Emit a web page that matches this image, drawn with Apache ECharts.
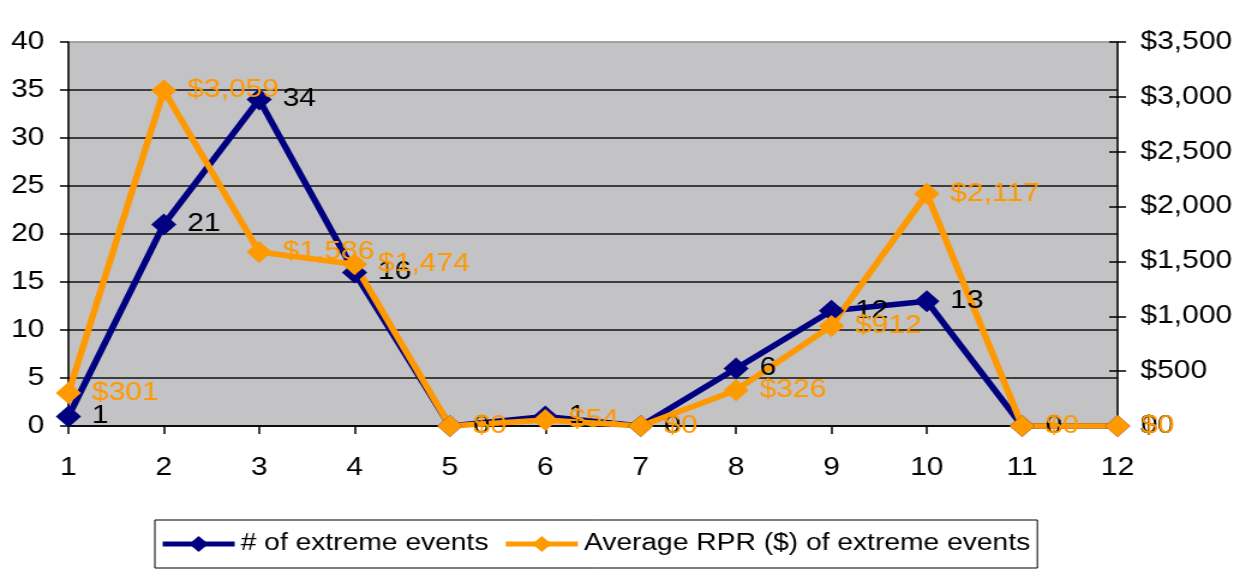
<!DOCTYPE html>
<html>
<head>
<meta charset="utf-8">
<script src="https://cdn.jsdelivr.net/npm/echarts@6/dist/echarts.min.js"></script>
<style>
  html, body { margin: 0; padding: 0; background: #fff; overflow: hidden; }
  #wrap { width: 1246px; height: 574px; overflow: hidden; }
  /* chart is laid out narrower and widened horizontally for its wide lettering */
  #main { width: 1038px; height: 574px; transform: scaleX(1.2004); transform-origin: 0 0; }
</style>
</head>
<body>
<div id="wrap"><div id="main"></div></div>
<script>
// Months / periods along the x axis
const categories = ['1', '2', '3', '4', '5', '6', '7', '8', '9', '10', '11', '12'];
// Count of extreme events per period
const eventCounts = [1, 21, 34, 16, 0, 1, 0, 6, 12, 13, 0, 0];
// Average RPR in dollars of those events
const avgRPR = [301, 3059, 1586, 1474, 0, 54, 0, 326, 912, 2117, 0, 0];
// Axis ranges
const leftAxis = { min: 0, max: 40, interval: 5 };
const rightAxis = { min: 0, max: 3500, interval: 500 };

const FONT = "'Liberation Sans', Arial, sans-serif";
const NAVY = '#000080';
const ORANGE = '#ff9900';
const dollars = v => '$' + Number(v).toLocaleString('en-US');

const chart = echarts.init(document.getElementById('main'), null, { renderer: 'canvas' });

chart.setOption({
  backgroundColor: '#ffffff',
  animation: false,
  textStyle: { fontFamily: FONT },
  grid: {
    left: 57, right: 107, top: 42, bottom: 148,
    show: true,
    backgroundColor: '#c3c2c5',
    borderColor: '#9a9a9a',
    borderWidth: 1
  },
  legend: {
    left: 129, top: 520,
    orient: 'horizontal',
    borderColor: '#000', borderWidth: 1,
    padding: [12, 6, 12, 4],
    itemWidth: 60, itemHeight: 20, itemGap: 12,
    lineStyle: { width: 5 },
    textStyle: { fontSize: 23.5, color: '#000', fontFamily: FONT },
    data: ['# of extreme events', 'Average RPR ($) of extreme events']
  },
  xAxis: {
    type: 'category',
    data: categories,
    boundaryGap: false,
    axisLine: { lineStyle: { color: '#000', width: 1.5 } },
    axisTick: { show: true, alignWithLabel: true, length: 8, lineStyle: { color: '#000', width: 1.5 } },
    axisLabel: { fontSize: 25, color: '#000', margin: 30, fontFamily: FONT },
    splitLine: { show: false }
  },
  yAxis: [
    {
      type: 'value', position: 'left',
      min: leftAxis.min, max: leftAxis.max, interval: leftAxis.interval,
      axisLine: { show: true, lineStyle: { color: '#000', width: 1.5 } },
      axisTick: { show: true, length: 7, lineStyle: { color: '#000', width: 1.5 } },
      axisLabel: { fontSize: 25, color: '#000', margin: 20, fontFamily: FONT },
      splitLine: {
        show: true,
        lineStyle: { color: ['#000', '#111', '#111', '#111', '#111', '#111', '#111', '#111', '#9a9a9a'], width: 1.5 }
      }
    },
    {
      type: 'value', position: 'right',
      min: rightAxis.min, max: rightAxis.max, interval: rightAxis.interval,
      axisLine: { show: true, lineStyle: { color: '#000', width: 1.5 } },
      axisTick: { show: true, length: 7, lineStyle: { color: '#000', width: 1.5 } },
      axisLabel: { fontSize: 25, color: '#000', margin: 19, fontFamily: FONT, formatter: dollars },
      splitLine: { show: false }
    },
    {
      // inner half of the right axis' crossing tick marks
      type: 'value', position: 'right',
      min: rightAxis.min, max: rightAxis.max, interval: rightAxis.interval,
      axisLine: { show: false },
      axisTick: { show: true, inside: true, length: 7, lineStyle: { color: '#000', width: 1.5 } },
      axisLabel: { show: false },
      splitLine: { show: false }
    }
  ],
  series: [
    {
      name: '# of extreme events',
      type: 'line',
      yAxisIndex: 0,
      data: eventCounts,
      color: NAVY,
      lineStyle: { color: NAVY, width: 5.5 },
      itemStyle: { color: NAVY },
      symbol: 'diamond',
      symbolSize: [21, 22],
      label: {
        show: true, position: 'right', distance: 9,
        fontSize: 25, color: '#000', fontFamily: FONT
      }
    },
    {
      name: 'Average RPR ($) of extreme events',
      type: 'line',
      yAxisIndex: 1,
      data: avgRPR,
      color: ORANGE,
      lineStyle: { color: ORANGE, width: 5.5 },
      itemStyle: { color: ORANGE },
      symbol: 'diamond',
      symbolSize: [21, 22],
      label: {
        show: true, position: 'right', distance: 9,
        fontSize: 25, color: ORANGE, fontFamily: FONT,
        formatter: p => dollars(p.value)
      }
    }
  ]
});
</script>
</body>
</html>
